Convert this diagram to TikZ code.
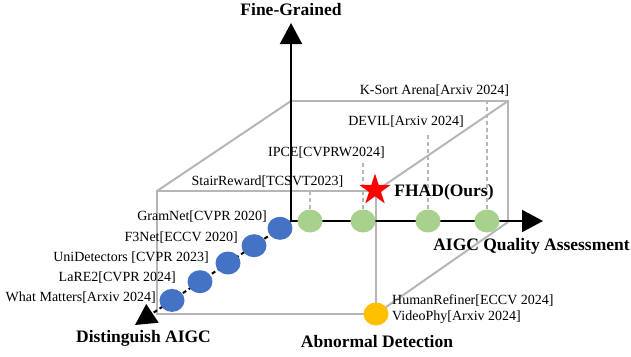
\documentclass[tikz,border=0pt]{standalone}
\usepackage{fontspec}
\setmainfont{Liberation Serif}
\usetikzlibrary{arrows.meta,shapes.geometric}
\definecolor{boxgray}{RGB}{182,182,182}
\definecolor{ptblue}{RGB}{68,114,196}
\definecolor{ptgreen}{RGB}{169,209,142}
\definecolor{ptorange}{RGB}{255,192,0}

\begin{document}
\begin{tikzpicture}[x=1pt,y=-1pt,
  edge/.style={draw=boxgray,line width=2pt},
  guide/.style={draw=boxgray,line width=1.5pt,dash pattern=on 4pt off 3pt},
  axis/.style={draw=black,line width=2pt,-{Triangle[length=21pt,width=22pt]}},
  dot/.style={ellipse,minimum width=25pt,minimum height=23pt,inner sep=0pt,draw=none},
  lbl/.style={font=\fontsize{14}{16}\selectfont,inner sep=0pt},
  axlbl/.style={font=\fontsize{17.5}{20}\selectfont\bfseries,inner sep=0pt}]
\useasboundingbox (0,0) rectangle (631,356);

% corners of the cube
\coordinate (O) at (291,221);
\coordinate (btl) at (291,101);
\coordinate (btr) at (508,101);
\coordinate (bbr) at (508,222);
\coordinate (ftl) at (157,191);
\coordinate (fbl) at (157,314);
\coordinate (fbr) at (376,314);
\coordinate (ftr) at (376,191);
% axis tips
\coordinate (ytip) at (291,23);
\coordinate (xtip) at (543,221);
\coordinate (ztip) at (135,325);

% cube edges
\draw[edge] (btl) -- (btr) -- (bbr);
\draw[edge] (ftl) -- (ftr) -- (fbr) -- (fbl) -- cycle;
\draw[edge] (btl) -- (ftl);
\draw[edge] (btr) -- (ftr);
\draw[edge] (bbr) -- (fbr);

% axes
\draw[axis] (O) -- (ytip);
\draw[axis] (O) -- (xtip);
\draw[axis,dash pattern=on 4pt off 3pt] (O) -- (ztip);

% quality-assessment methods
\node[dot,fill=ptgreen] (g1) at (310,221) {};
\node[dot,fill=ptgreen] (g2) at (363,221) {};
\node[dot,fill=ptgreen] (g3) at (428,221) {};
\node[dot,fill=ptgreen] (g4) at (487,221) {};
\coordinate (g1top) at (310,191);
\coordinate (g2top) at (363,163);
\coordinate (g3top) at (428,133);
\coordinate (g4top) at (487,101);
\draw[guide] (g1.north) -- (g1top);
\draw[guide] (g2.north) -- (g2top);
\draw[guide] (g3.north) -- (g3top);
\draw[guide] (g4.north) -- (g4top);

% detection methods
\node[dot,fill=ptblue] (b1) at (280,228.3) {};
\node[dot,fill=ptblue] (b2) at (254,245.7) {};
\node[dot,fill=ptblue] (b3) at (228,263) {};
\node[dot,fill=ptblue] (b4) at (200,281.7) {};
\node[dot,fill=ptblue] (b5) at (172,300.4) {};

% abnormal detection
\node[dot,fill=ptorange] (o1) at (376,314) {};

% ours
\node[star,star points=5,star point ratio=2.618,fill=red,minimum size=33pt,inner sep=0pt] (fhad) at (375,190) {};

% axis labels
\node[axlbl] (lfine) at (291,10) {Fine-Grained};
\node[axlbl] (lqa) at (531.5,246) {AIGC Quality Assessment};
\node[axlbl] (ldist) at (143.5,338) {Distinguish AIGC};
\node[axlbl] (labn) at (377,342) {Abnormal Detection};
\node[axlbl] (lours) at (444,192) {FHAD(Ours)};

% method labels
\node[lbl] (tks) at (434.5,91) {K-Sort Arena[Arxiv 2024]};
\node[lbl] (tdevil) at (406,122) {DEVIL[Arxiv 2024]};
\node[lbl] (tipce) at (326.5,153) {IPCE[CVPRW2024]};
\node[lbl] (tstair) at (267.5,182) {StairReward[TCSVT2023]};
\node[lbl,anchor=east] (tgram) at (267,217) {GramNet[CVPR 2020]};
\node[lbl,anchor=east] (tf3) at (238,238) {F3Net[ECCV 2020]};
\node[lbl,anchor=east] (tuni) at (209,258) {UniDetectors [CVPR 2023]};
\node[lbl,anchor=east] (tlare) at (176,278) {LaRE2[CVPR 2024]};
\node[lbl,anchor=east] (twhat) at (156,298) {What Matters[Arxiv 2024]};
\node[lbl,anchor=west] (thuman) at (392,301) {HumanRefiner[ECCV 2024]};
\node[lbl,anchor=west] (tvideo) at (392,317) {VideoPhy[Arxiv 2024]};
\end{tikzpicture}
\end{document}
